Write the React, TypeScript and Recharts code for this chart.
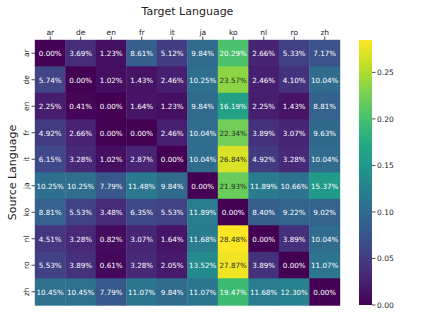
import React from 'react';
import { BarChart, Bar, XAxis, YAxis, Cell, LabelList, Label } from 'recharts';

const sources = ['ar', 'de', 'en', 'fr', 'it', 'ja', 'ko', 'nl', 'ro', 'zh'];
const targets = ['ar', 'de', 'en', 'fr', 'it', 'ja', 'ko', 'nl', 'ro', 'zh'];

const arRow = [0.0, 3.69, 1.23, 8.61, 5.12, 9.84, 20.29, 2.66, 5.33, 7.17];
const deRow = [5.74, 0.0, 1.02, 1.43, 2.46, 10.25, 23.57, 2.46, 4.1, 10.04];
const enRow = [2.25, 0.41, 0.0, 1.64, 1.23, 9.84, 16.19, 2.25, 1.43, 8.81];
const frRow = [4.92, 2.66, 0.0, 0.0, 2.46, 10.04, 22.34, 3.89, 3.07, 9.63];
const itRow = [6.15, 3.28, 1.02, 2.87, 0.0, 10.04, 26.84, 4.92, 3.28, 10.04];
const jaRow = [10.25, 10.25, 7.79, 11.48, 9.84, 0.0, 21.93, 11.89, 10.66, 15.37];
const koRow = [8.81, 5.53, 3.48, 6.35, 5.53, 11.89, 0.0, 8.4, 9.22, 9.02];
const nlRow = [4.51, 3.28, 0.82, 3.07, 1.64, 11.68, 28.48, 0.0, 3.89, 10.04];
const roRow = [5.53, 3.89, 0.61, 3.28, 2.05, 13.52, 27.87, 3.89, 0.0, 11.07];
const zhRow = [10.45, 10.45, 7.79, 11.07, 9.84, 11.07, 19.47, 11.68, 12.3, 0.0];

const rows = [arRow, deRow, enRow, frRow, itRow, jaRow, koRow, nlRow, roRow, zhRow];
const colorbarTicks = [0, 0.05, 0.1, 0.15, 0.2, 0.25];

const VIRIDIS = ['#440154', '#482475', '#414487', '#355f8d', '#2a788e', '#21918c', '#22a884', '#44bf70', '#7ad151', '#bddf26', '#fde725'];

const vmax = Math.max(...rows.flat()) / 100;

function hexToRgb(h: string) {
  return [parseInt(h.slice(1, 3), 16), parseInt(h.slice(3, 5), 16), parseInt(h.slice(5, 7), 16)];
}

function viridisRgb(t: number) {
  const c = Math.max(0, Math.min(1, t)) * (VIRIDIS.length - 1);
  const i = Math.min(Math.floor(c), VIRIDIS.length - 2);
  const f = c - i;
  const a = hexToRgb(VIRIDIS[i]);
  const b = hexToRgb(VIRIDIS[i + 1]);
  return [0, 1, 2].map((k) => Math.round(a[k] + (b[k] - a[k]) * f));
}

function colorFor(pct: number) {
  const [r, g, b] = viridisRgb(pct / 100 / vmax);
  return `rgb(${r},${g},${b})`;
}

function textColorFor(pct: number) {
  const rgb = viridisRgb(pct / 100 / vmax).map((v) => {
    const c = v / 255;
    return c <= 0.03928 ? c / 12.92 : Math.pow((c + 0.055) / 1.055, 2.4);
  });
  const lum = 0.2126 * rgb[0] + 0.7152 * rgb[1] + 0.0722 * rgb[2];
  return lum > 0.408 ? '#262626' : '#ffffff';
}

const tableData = rows.map((r, i) => {
  const o: any = { src: sources[i] };
  r.forEach((v, j) => {
    o['u' + j] = 1;
    o['v' + j] = v;
  });
  return o;
});

const FONT = 'DejaVu Sans, sans-serif';

const renderCellLabel = (props: any) => {
  const { x, y, width, height, value } = props;
  if (value === undefined || value === null) return null;
  return (
    <text
      x={x + width / 2}
      y={y + height / 2}
      dy="0.36em"
      textAnchor="middle"
      fontSize={7.2}
      fontFamily={FONT}
      fill={textColorFor(value)}
    >
      {Number(value).toFixed(2)}%
    </text>
  );
};

const YTick = (props: any) => {
  const { x, y, payload } = props;
  return (
    <g transform={`translate(${x - 3},${y})`}>
      <text transform="rotate(-90)" textAnchor="middle" dy="0.36em" fontSize={7.5} fontFamily={FONT} fill="#222">
        {payload.value}
      </text>
    </g>
  );
};

export default function App() {
  return (
    <div style={{ position: 'absolute', left: 0, top: 0, width: 424, height: 318, background: '#fff', fontFamily: FONT }}>
      <BarChart
        width={424}
        height={318}
        data={tableData}
        layout="vertical"
        margin={{ top: 0, right: 84, bottom: 13, left: 0 }}
        barCategoryGap={0}
        barGap={0}
      >
        <XAxis
          type="number"
          orientation="top"
          height={40}
          domain={[0, 10]}
          ticks={[0.5, 1.5, 2.5, 3.5, 4.5, 5.5, 6.5, 7.5, 8.5, 9.5]}
          interval={0}
          tickFormatter={(t: number) => targets[Math.floor(t)]}
          axisLine={false}
          tickSize={3.5}
          tickMargin={2}
          tickLine={{ stroke: '#222', strokeWidth: 0.8 }}
          tick={{ fontSize: 7.5, fill: '#222', fontFamily: FONT }}
        >
          <Label value="Target Language" position="insideTop" offset={7} style={{ fontSize: 11, fill: '#222', fontFamily: FONT }} />
        </XAxis>
        <YAxis
          type="category"
          dataKey="src"
          width={35}
          interval={0}
          axisLine={false}
          tickSize={3.5}
          tickMargin={2}
          tickLine={{ stroke: '#222', strokeWidth: 0.8 }}
          tick={<YTick />}
        >
          <Label
            value="Source Language"
            position="insideLeft"
            angle={-90}
            offset={12}
            style={{ fontSize: 11, fill: '#222', fontFamily: FONT, textAnchor: 'middle' }}
          />
        </YAxis>
        {targets.map((t, j) => (
          <Bar key={t} dataKey={'u' + j} stackId="s" isAnimationActive={false}>
            {rows.map((r, i) => (
              <Cell key={i} fill={colorFor(r[j])} stroke={colorFor(r[j])} strokeWidth={0.4} />
            ))}
            <LabelList dataKey={'v' + j} content={renderCellLabel} />
          </Bar>
        ))}
      </BarChart>
      <div style={{ position: 'absolute', left: 359, top: 0 }}>
        <BarChart
          width={63}
          height={318}
          data={[{ name: 'cb', v: vmax }]}
          margin={{ top: 40, right: 0, bottom: 13, left: 0 }}
          barCategoryGap={0}
        >
          <defs>
            <linearGradient id="vir" x1="0" y1="1" x2="0" y2="0">
              {VIRIDIS.map((c, i) => (
                <stop key={i} offset={i / (VIRIDIS.length - 1)} stopColor={c} />
              ))}
            </linearGradient>
          </defs>
          <XAxis dataKey="name" type="category" hide />
          <YAxis
            orientation="right"
            type="number"
            domain={[0, vmax]}
            ticks={colorbarTicks}
            width={50}
            axisLine={false}
            tickSize={3.5}
            tickMargin={1.5}
            tickLine={{ stroke: '#222', strokeWidth: 0.8 }}
            tickFormatter={(v: number) => v.toFixed(2)}
            tick={{ fontSize: 7.5, fill: '#222', fontFamily: FONT, textAnchor: 'start' }}
            allowDataOverflow
          />
          <Bar dataKey="v" fill="url(#vir)" isAnimationActive={false} />
        </BarChart>
      </div>
    </div>
  );
}
